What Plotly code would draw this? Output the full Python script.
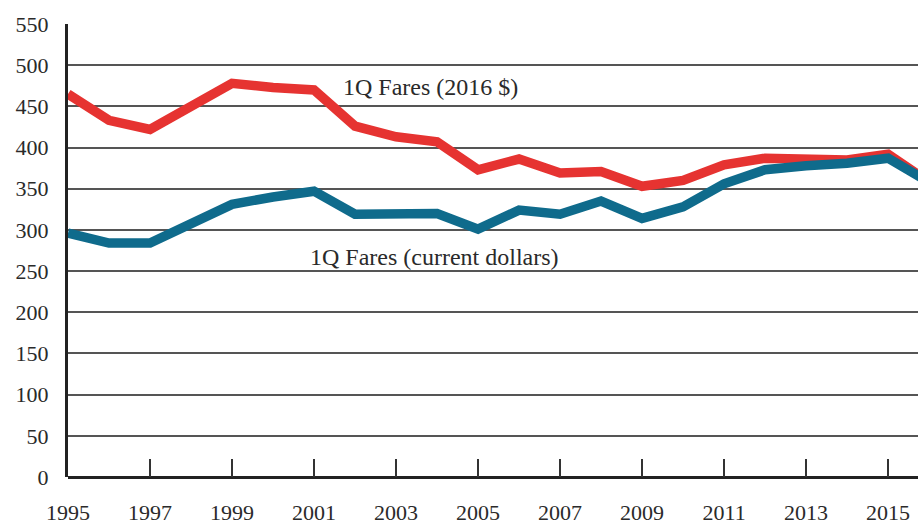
import plotly.graph_objects as go

years = list(range(1995, 2017))
fares_2016 = [465, 433, 422, 449, 478, 473, 470, 426, 413, 407, 373, 386, 369, 371, 353, 360, 379, 387, 387, 385, 392, 358]
fares_current = [296, 284, 284, 306, 331, 340, 347, 319, 319, 320, 301, 324, 319, 335, 314, 328, 356, 373, 378, 381, 387, 358]
x_ticks = list(range(1995, 2016, 2))
y_ticks = list(range(0, 551, 50))

RED = "#E63331"
BLUE = "#0F6B8C"
FONT = "Liberation Serif"

fig = go.Figure()
fig.add_trace(go.Scatter(x=years, y=fares_2016, mode="lines",
                         line=dict(color=RED, width=9.5), showlegend=False))
fig.add_trace(go.Scatter(x=years, y=fares_current, mode="lines",
                         line=dict(color=BLUE, width=9.5), showlegend=False))

fig.add_annotation(x=2003.83, y=473, text="1Q Fares (2016 $)", showarrow=False,
                   font=dict(family=FONT, size=24, color="#2a2a2a"))
fig.add_annotation(x=2003.95, y=267, text="1Q Fares (current dollars)", showarrow=False,
                   font=dict(family=FONT, size=24, color="#2a2a2a"))

fig.update_layout(
    width=918, height=525,
    margin=dict(l=68, r=0, t=24, b=48),
    paper_bgcolor="white", plot_bgcolor="white",
    font=dict(family=FONT, size=22, color="#2a2a2a"),
    xaxis=dict(range=[1995, 2015.73], tickvals=x_ticks, ticktext=[str(v) for v in x_ticks],
               ticks="inside", ticklen=18, tickwidth=2, tickcolor="#333",
               showgrid=False, showline=False, zeroline=False, automargin=False,
               ticklabelstandoff=20),
    yaxis=dict(range=[0, 550], tickvals=y_ticks, ticks="", showgrid=True,
               gridcolor="#555", gridwidth=2, showline=True, linecolor="#222",
               linewidth=3, zeroline=True, zerolinecolor="#222", zerolinewidth=3,
               automargin=False, ticklabelstandoff=12),
)
fig.write_html("out.html", config={"displayModeBar": False},
               post_script="document.body.style.margin='0';document.body.style.overflow='hidden';")
